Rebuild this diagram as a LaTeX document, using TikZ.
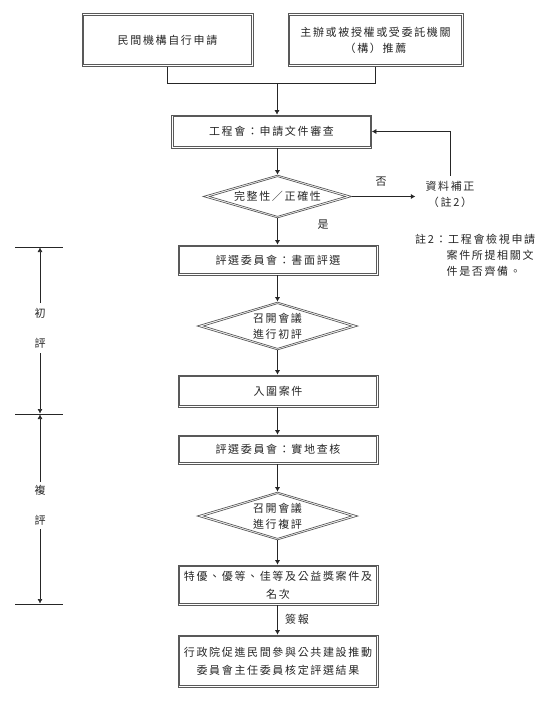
\documentclass[tikz,border=0pt]{standalone}
\usepackage{fontspec}
\setmainfont{Noto Sans CJK TC}[LetterSpace=15]
\usetikzlibrary{shapes.geometric,arrows.meta,calc}
\tikzset{
  brd/.style={draw=black!65, line width=0.7pt},
  box/.style={brd, rectangle, minimum width=200pt, align=center, inner sep=0pt, text=black!85},
  dia/.style={brd, diamond, inner sep=0pt, align=center, text=black!85},
  txt/.style={align=center, inner sep=0pt, text=black!85},
  arr/.style={-{Latex[length=4.5pt,width=5pt]}, line width=0.6pt, draw=black!85},
  ln/.style={line width=0.6pt, draw=black!85},
}
\newcommand\innerbox[1]{\draw[brd] ([shift={(2pt,-2pt)}]#1.north west) rectangle ([shift={(-2pt,2pt)}]#1.south east);}
\newcommand\innerdia[1]{\draw[brd] ([yshift=-2pt]#1.north) -- ([xshift=-6.8pt]#1.east) -- ([yshift=2pt]#1.south) -- ([xshift=6.8pt]#1.west) -- cycle;}
\begin{document}
\begin{tikzpicture}[x=1pt,y=-1pt,font=\fontsize{11}{16}\selectfont]
\useasboundingbox (0,0) rectangle (550,701);
% top boxes
\node[box, minimum width=171pt, minimum height=53pt] (b1) at (167.5,40) {民間機構自行申請};
\node[box, minimum width=175pt, minimum height=53pt] (b2) at (375.5,40) {主辦或被授權或受委託機關\\（構）推薦};
\innerbox{b1}\innerbox{b2}
\coordinate (j) at (277,83);
\node[box, minimum width=200pt, minimum height=33pt] (b3) at (271.5,131.5) {工程會：申請文件審查};
\innerbox{b3}
\draw[ln] (b1.south) |- (j);
\draw[ln] (b2.south) |- (j);
\draw[arr] (j) -- (j |- b3.north);
% diamond 1
\node[dia, aspect=3.47, minimum width=149pt, minimum height=43pt] (d1) at (277.5,196.5) {完整性／正確性};
\innerdia{d1}
\draw[arr] (b3.south -| d1.north) -- (d1.north);
\node[txt, inner xsep=10pt, inner ysep=5pt] (fix) at (450,194) {資料補正\\（註2）};
\draw[arr] (d1.east) -- (d1.east -| fix.west);
\node[txt] (no) at (381,182) {否};
\draw[arr] (fix.north) |- (b3.east);
\node[txt] (yes) at (323,225) {是};
% note
\node[txt, align=left, anchor=north west] (note) at (415,234) {註2：工程會檢視申請\\\phantom{註2：}案件所提相關文\\\phantom{註2：}件是否齊備。};
% first review
\node[box, minimum height=30pt] (b4) at (278,260) {評選委員會：書面評選};
\innerbox{b4}
\draw[arr] (d1.south) -- (d1.south |- b4.north);
\node[dia, aspect=3.35, minimum width=161pt, minimum height=48pt] (d2) at (277.5,326) {召開會議\\進行初評};
\innerdia{d2}
\draw[arr] (b4.south -| d2.north) -- (d2.north);
\node[box, minimum height=32pt] (b5) at (278,391) {入圍案件};
\innerbox{b5}
\draw[arr] (d2.south) -- (d2.south |- b5.north);
% second review
\node[box, minimum height=29pt] (b6) at (278,449.5) {評選委員會：實地查核};
\innerbox{b6}
\draw[arr] (b5.south -| d2.south) -- (b6.north -| d2.south);
\node[dia, aspect=3.35, minimum width=161pt, minimum height=48pt] (d3) at (277.5,516) {召開會議\\進行複評};
\innerdia{d3}
\draw[arr] (b6.south -| d3.north) -- (d3.north);
\node[box, minimum height=40pt, font=\fontsize{11}{18}\selectfont] (b7) at (278,585) {特優、優等、佳等及公益獎案件及\\名次};
\innerbox{b7}
\draw[arr] (d3.south) -- (d3.south |- b7.north);
\node[box, minimum height=52pt, font=\fontsize{11}{18}\selectfont] (b8) at (278,661) {行政院促進民間參與公共建設推動\\委員會主任委員核定評選結果};
\innerbox{b8}
\draw[arr] (b7.south -| d3.south) -- (b8.north -| d3.south);
\node[txt] (sign) at (297,619) {簽報};
% left bracket
\coordinate (t1a) at (15,247); \coordinate (t1b) at (63,247);
\coordinate (t2a) at (15,414); \coordinate (t2b) at (63,414);
\coordinate (t3a) at (15,604); \coordinate (t3b) at (63,604);
\draw[ln] (t1a) -- (t1b);
\draw[ln] (t2a) -- (t2b);
\draw[ln] (t3a) -- (t3b);
\node[txt] (c1) at (40,313) {初};
\node[txt] (c2) at (40,343) {評};
\node[txt] (c3) at (40,490) {複};
\node[txt] (c4) at (40,520) {評};
\draw[arr] (40,303) -- (40,247.5);
\draw[arr] (40,353) -- (40,413.5);
\draw[arr] (40,482) -- (40,414.5);
\draw[arr] (40,529) -- (40,603.5);
\end{tikzpicture}
\end{document}
